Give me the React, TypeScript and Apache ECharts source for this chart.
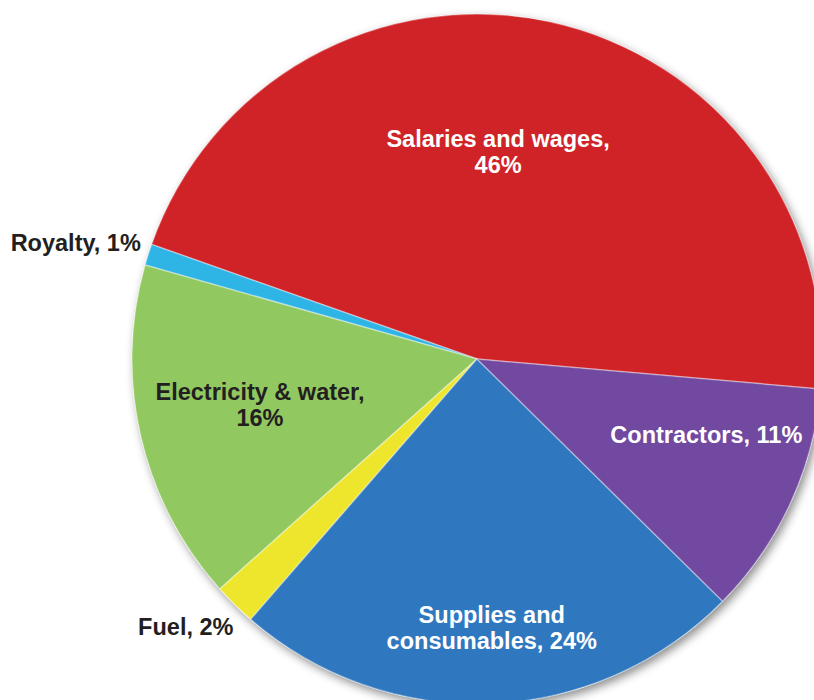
import React, { useEffect, useRef } from "react";
import * as echarts from "echarts";

// Data (order follows the pie counter-clockwise from the 3 o'clock side)
const categories = [
  "Salaries and wages",
  "Royalty",
  "Electricity & water",
  "Fuel",
  "Supplies and consumables",
  "Contractors",
];
const values = [46, 1, 16, 2, 24, 11];
const labelPrefixes = [
  "Salaries and wages,\n",
  "Royalty, ",
  "Electricity & water,\n",
  "Fuel, ",
  "Supplies and\nconsumables, ",
  "Contractors, ",
];

// Styles
const colors = ["#D02327", "#2FB4E6", "#92C860", "#EEE62C", "#2F78BF", "#7249A0"];
const labelColors = ["#ffffff", "#231F20", "#231F20", "#231F20", "#ffffff", "#ffffff"];
// label shifts [dx, dy] from each slice's middle point
const labelShifts = [
  [-16, -35],
  [-234, -63],
  [-46, 7],
  [-168, 143],
  [8, 94],
  [70, 2],
];

export default function App() {
  const ref = useRef<HTMLDivElement>(null);
  useEffect(() => {
    if (!ref.current) return;
    const chart = echarts.init(ref.current, undefined, { renderer: "svg" });
    const center = [477, 359];
    const radius = 345;
    chart.setOption({
      animation: false,
      backgroundColor: "#ffffff",
      series: [
        {
          type: "pie",
          silent: true,
          center,
          radius,
          z: 1,
          label: { show: false },
          labelLine: { show: false },
          itemStyle: {
            color: "#ffffff",
            shadowBlur: 10,
            shadowOffsetX: 3,
            shadowOffsetY: 4,
            shadowColor: "rgba(0,0,0,0.45)",
          },
          data: [{ value: 1, name: "" }],
        },
        {
          type: "pie",
          center,
          radius,
          z: 2,
          startAngle: 355,
          clockwise: false,
          avoidLabelOverlap: false,
          minShowLabelAngle: 0,
          labelLine: { show: false },
          labelLayout: (p: any) => ({
            dx: labelShifts[p.dataIndex][0],
            dy: labelShifts[p.dataIndex][1],
            hideOverlap: false,
          }),
          itemStyle: {
            borderColor: "rgba(255,255,255,0.35)",
            borderWidth: 1.5,
          },
          label: {
            show: true,
            position: "inside",
            fontFamily: "'Liberation Sans', Arial, sans-serif",
            fontWeight: "bold",
            fontSize: 23.5,
            lineHeight: 26,
            align: "center",
          },
          data: categories.map((name, i) => ({
            name,
            value: values[i],
            itemStyle: { color: colors[i] },
            label: {
              formatter: labelPrefixes[i] + values[i] + "%",
              color: labelColors[i],
            },
          })),
        },
      ],
    });
    return () => chart.dispose();
  }, []);
  return (
    <div
      ref={ref}
      style={{ position: "fixed", left: 0, top: 0, width: 814, height: 700 }}
    />
  );
}
